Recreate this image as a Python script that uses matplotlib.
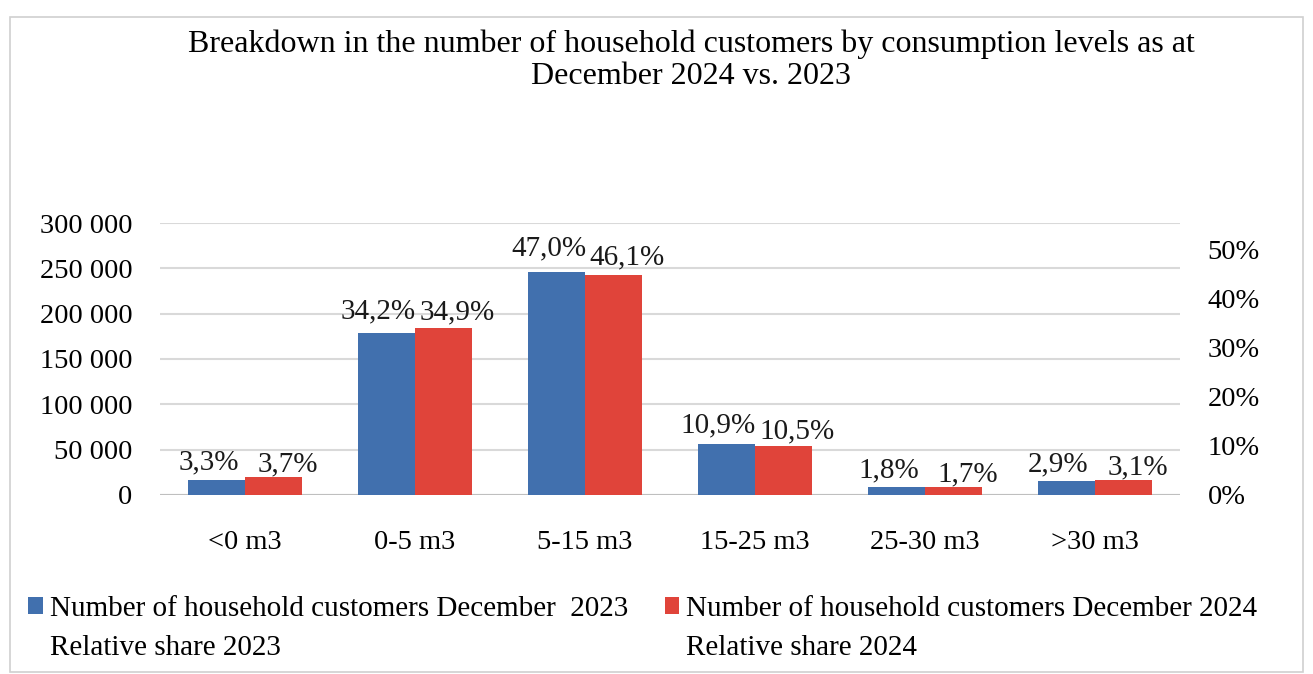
import numpy as np
import matplotlib
matplotlib.use("Agg")
import matplotlib.pyplot as plt
from matplotlib.ticker import FuncFormatter, MultipleLocator
from matplotlib.patches import Rectangle

plt.rcParams['font.family'] = 'serif'
plt.rcParams['font.serif'] = ['Liberation Serif', 'DejaVu Serif']

# data
categories = ['<0 m3', '0-5 m3', '5-15 m3', '15-25 m3', '25-30 m3', '>30 m3']
customers_2023 = [17000, 178700, 245700, 56200, 8800, 14900]
customers_2024 = [19700, 184200, 242900, 54400, 8900, 16000]
share_2023 = [3.3, 34.2, 47.0, 10.9, 1.8, 2.9]
share_2024 = [3.7, 34.9, 46.1, 10.5, 1.7, 3.1]

BLUE = '#4170AE'
RED = '#E0443A'
FS = 20.5

fig = plt.figure(figsize=(13.13, 6.74), dpi=100)
W, H = 1313, 674
ax = fig.add_axes([160 / W, 1 - 495 / H, 1020 / W, 272 / H])
ax2 = ax.twinx()

x = np.arange(len(categories))
w = 0.335
b1 = ax.bar(x - w / 2, customers_2023, w, color=BLUE, zorder=3,
            label='Number of household customers December  2023')
b2 = ax.bar(x + w / 2, customers_2024, w, color=RED, zorder=3,
            label='Number of household customers December 2024')

# relative shares: no line drawn, only data labels (as in the source chart)
s1 = np.array(share_2023) / 100
s2 = np.array(share_2024) / 100
l1, = ax2.plot(x - w / 2, s1, linestyle='none', label='Relative share 2023')
l2, = ax2.plot(x + w / 2, s2, linestyle='none', label='Relative share 2024')

def pct(v):
    return f"{v:.1f}".replace('.', ',') + '%'

for xi, v in zip(x - w / 2, s1):
    ax2.annotate(pct(v * 100), (xi, v), xytext=(-8, 16), textcoords='offset pixels',
                 ha='center', va='center', fontsize=21, color='#1a1a1a')
for xi, v in zip(x + w / 2, s2):
    ax2.annotate(pct(v * 100), (xi, v), xytext=(14, 12), textcoords='offset pixels',
                 ha='center', va='center', fontsize=21, color='#1a1a1a')

ax.set_xlim(-0.5, len(categories) - 0.5)
ax.set_ylim(0, 300000)
ax.yaxis.set_major_locator(MultipleLocator(50000))
ax2.yaxis.set_major_locator(MultipleLocator(0.1))
ax.yaxis.set_major_formatter(FuncFormatter(lambda v, p: f"{int(v):,}".replace(',', ' ')))
ax2.yaxis.set_major_formatter(FuncFormatter(lambda v, p: f"{v * 100:.0f}%"))
ax2.set_ylim(0, 0.555)

ax.set_xticks(x)
ax.set_xticklabels(categories)
ax.tick_params(axis='x', length=0, pad=25, labelsize=FS)
ax.tick_params(axis='y', length=0, pad=20, labelsize=FS)
ax2.tick_params(axis='y', length=0, pad=20, labelsize=FS)

ax.grid(axis='y', color='#D9D9D9', linewidth=1.5, zorder=0)
ax.set_axisbelow(True)
for a in (ax, ax2):
    for sp in a.spines.values():
        sp.set_visible(False)
ax.axhline(0, color='#BFBFBF', linewidth=1.5, zorder=2)

fig.text(691 / W, 1 - 60 / H,
         'Breakdown in the number of household customers by consumption levels as at\nDecember 2024 vs. 2023',
         ha='center', va='center', fontsize=23, linespacing=1.12)

fig.legend([b1, l1, b2, l2],
           [b1.get_label(), l1.get_label(), b2.get_label(), l2.get_label()],
           loc='upper left', bbox_to_anchor=(28 / W, 1 - 596 / H), ncol=2,
           frameon=False, fontsize=21, borderpad=0, borderaxespad=0,
           handlelength=0.5, handleheight=0.5, handletextpad=0.25,
           columnspacing=1.25, labelspacing=0.45)

# light frame around the whole chart
fig.patches.append(Rectangle((10 / W, 1 - 672 / H), 1293 / W, 655 / H,
                             transform=fig.transFigure, fill=False,
                             edgecolor='#D0D0D0', linewidth=1.2))

fig.savefig('out.png', dpi=100)
